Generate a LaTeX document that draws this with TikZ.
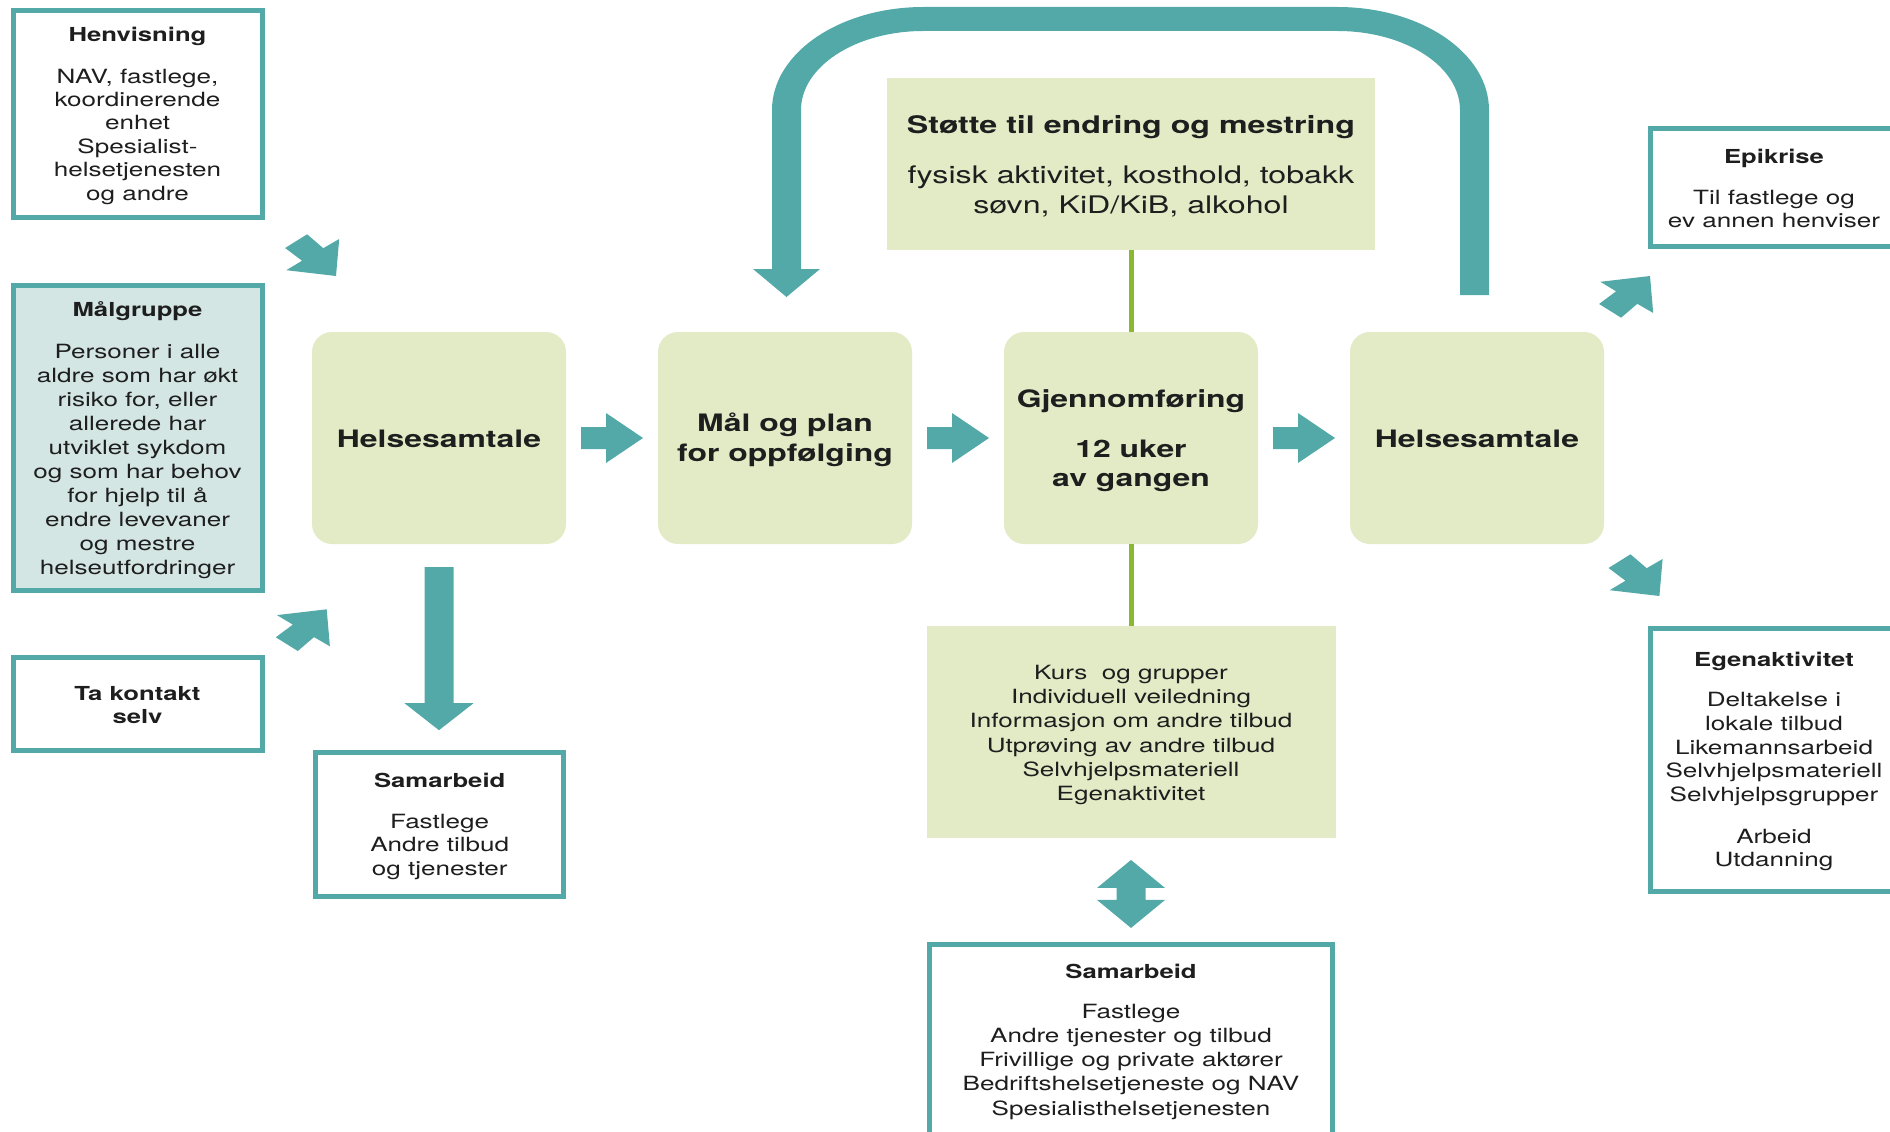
\documentclass[tikz,border=0pt]{standalone}
\usepackage{fontspec}
\setmainfont{TeX Gyre Heros}[FakeStretch=1.33]
\usetikzlibrary{calc}
\definecolor{teal1}{HTML}{52A9A8}
\definecolor{lgreen}{HTML}{E2EAC6}
\definecolor{lblue}{HTML}{D3E6E4}
\definecolor{olive1}{HTML}{8AB833}
\definecolor{ink}{HTML}{1E1E1E}
\newcommand\mylines[1]{\begin{tabular}[t]{@{}c@{}}#1\end{tabular}}
\renewcommand{\arraystretch}{1}
\tikzset{
  outbox/.style={draw=teal1, line width=5pt, fill=white, inner sep=0pt, rectangle},
  mainbox/.style={fill=lgreen, rounded corners=20pt, minimum width=254pt, minimum height=212pt, inner sep=0pt},
  flatbox/.style={fill=lgreen, inner sep=0pt},
  bodytxt/.style={anchor=base, inner sep=0pt, text=ink, font=\fontsize{19.6}{23.8}\selectfont},
  headtxt/.style={anchor=base, inner sep=0pt, text=ink, font=\bfseries\fontsize{19.3}{23.5}\selectfont},
  maintxt/.style={anchor=base, inner sep=0pt, text=ink, font=\bfseries\fontsize{24}{29.6}\selectfont},
  blockarrow/.style={fill=teal1, draw=none},
  stem/.style={draw=olive1, line width=5pt},
  diagblk/.pic={\fill[blockarrow] (0,0) -- (3.2,37) -- (-12.7,27.8) -- (-28.9,41.7) -- (-50.9,28) -- (-33.9,15.3) -- (-49.7,5.8) -- cycle;}
}
\newcommand\harrow[2]{\fill[blockarrow] ($(#1.east)!0.5!(#2.west)$) ++(-31,-11) -- ++(25,0) -- ++(0,-14) -- ++(37,25) -- ++(-37,25) -- ++(0,-14) -- ++(-25,0) -- cycle;}
\begin{document}
\begin{tikzpicture}[x=1pt,y=-1pt]
\useasboundingbox (0,0) rectangle (1890,1132);
\clip (0,0) rectangle (1890,1132);

% boxes
\node[outbox, minimum width=249pt, minimum height=207pt] (hen) at (137.5,114) {};
\node[outbox, fill=lblue, minimum width=249pt, minimum height=304.4pt] (mal) at (137.5,438) {};
\node[outbox, minimum width=249pt, minimum height=93.3pt] (ta) at (137.5,704.2) {};
\node[mainbox] (h1) at (439,438) {};
\node[mainbox] (h2) at (785,438) {};
\node[mainbox] (h3) at (1131,438) {};
\node[mainbox] (h4) at (1477,438) {};
\node[flatbox, minimum width=487.4pt, minimum height=171.7pt] (stotte) at (1131,164.2) {};
\node[flatbox, minimum width=409pt, minimum height=211.5pt] (kurs) at (1131,732) {};
\node[outbox, minimum width=248pt, minimum height=144.3pt] (sam1) at (439.7,824.7) {};
\node[outbox, minimum width=402.7pt, minimum height=256pt] (sam2) at (1131,1072) {};
\node[outbox, minimum width=248pt, minimum height=118.3pt] (epi) at (1774,187.7) {};
\node[outbox, minimum width=248pt, minimum height=263pt] (ege) at (1774,760) {};

% texts
\node[headtxt] (henH) at (137.5,42) {Henvisning};
\node[bodytxt, font=\fontsize{19.6}{23.4}\selectfont] (henB) at (137.5,83) {\mylines{NAV, fastlege,\\koordinerende\\enhet\\Spesialist-\\helsetjenesten\\og andre}};
\node[headtxt] (malH) at (137.5,316.7) {Målgruppe};
\node[bodytxt, font=\fontsize{19.6}{24}\selectfont] (malB) at (137.5,358) {\mylines{Personer i alle\\aldre som har økt\\risiko for, eller\\allerede har\\utviklet sykdom\\og som har behov\\for hjelp til å\\endre levevaner\\og mestre\\helseutfordringer}};
\node[headtxt, font=\bfseries\fontsize{19.3}{23.3}\selectfont] (taT) at (137.5,700) {\mylines{Ta kontakt\\selv}};

\node[maintxt] (h1T) at (439,447) {Helsesamtale};
\node[maintxt, font=\bfseries\fontsize{24}{30}\selectfont] (h2T) at (785,431.7) {\mylines{Mål og plan\\for oppfølging}};
\node[maintxt] (h3T) at (1131,407) {Gjennomføring};
\node[maintxt] (h3B) at (1131,457.3) {\mylines{12 uker\\av gangen}};
\node[maintxt] (h4T) at (1477,447) {Helsesamtale};

\node[headtxt, font=\bfseries\fontsize{24.2}{30}\selectfont] (stH) at (1131,133.3) {Støtte til endring og mestring};
\node[bodytxt, font=\fontsize{24.2}{30}\selectfont] (stB) at (1131,183.3) {\mylines{fysisk aktivitet, kosthold, tobakk\\søvn, KiD/KiB, alkohol}};

\node[bodytxt, font=\fontsize{19.6}{24.1}\selectfont] (kursB) at (1131,679.7) {\mylines{Kurs~~og grupper\\Individuell veiledning\\Informasjon om andre tilbud\\Utprøving av andre tilbud\\Selvhjelpsmateriell\\Egenaktivitet}};

\node[headtxt] (s2H) at (1131,978.3) {Samarbeid};
\node[bodytxt, font=\fontsize{19.6}{24.2}\selectfont] (s2B) at (1131,1018.3) {\mylines{Fastlege\\Andre tjenester og tilbud\\Frivillige og private aktører\\Bedriftshelsetjeneste og NAV\\Spesialisthelsetjenesten}};

\node[headtxt] (s1H) at (439.7,787.7) {Samarbeid};
\node[bodytxt, font=\fontsize{19.6}{23.5}\selectfont] (s1B) at (439.7,828) {\mylines{Fastlege\\Andre tilbud\\og tjenester}};

\node[headtxt] (epH) at (1774,163) {Epikrise};
\node[bodytxt, font=\fontsize{19.6}{23}\selectfont] (epB) at (1774,204) {\mylines{Til fastlege og\\ev annen henviser}};

\node[headtxt] (egH) at (1774,666) {Egenaktivitet};
\node[bodytxt, font=\fontsize{19.6}{23.75}\selectfont] (egB) at (1774,706.7) {\mylines{Deltakelse i\\lokale tilbud\\Likemannsarbeid\\Selvhjelpsmateriell\\Selvhjelpsgrupper\\[17.6pt]Arbeid\\Utdanning}};

% stems
\draw[stem] (stotte.south) -- (h3.north);
\draw[stem] (h3.south) -- (kurs.north);

% horizontal block arrows
\harrow{h1}{h2}
\harrow{h2}{h3}
\harrow{h3}{h4}

% down arrow to Samarbeid
\fill[blockarrow] ($(h1.south)+(0,23)$) ++(-14.5,0) -- ++(29,0) -- ++(0,136) -- ++(20,0) -- ++(-34.5,27) -- ++(-34.5,-27) -- ++(20,0) -- cycle;

% double arrow
\fill[blockarrow] ($(kurs.south)+(0,22)$) -- ++(34,28) -- ++(-19.5,0) -- ++(0,12) -- ++(19.5,0) -- ++(-34,28) -- ++(-34,-28) -- ++(19.5,0) -- ++(0,-12) -- ++(-19.5,0) -- cycle;

% loop arrow
\fill[teal1] (772,269) -- (772,110) .. controls (772,53.1) and (839.8,7) .. (923.5,7) -- (1337.5,7) .. controls (1421.2,7) and (1489,53.1) .. (1489,110) -- (1489,295) -- (1460,295) -- (1460,110) .. controls (1460,66.4) and (1405.2,31) .. (1337.5,31) -- (923.5,31) .. controls (855.8,31) and (801,66.4) .. (801,110) -- (801,269) -- (820,269) -- (786.5,297) -- (753,269) -- cycle;

% diagonal arrows
\pic[yscale=-1] at (336,276) {diagblk};
\pic at (326.7,609.3) {diagblk};
\pic at (1650,276) {diagblk};
\pic[yscale=-1] at (1659.4,596) {diagblk};
\end{tikzpicture}
\end{document}
